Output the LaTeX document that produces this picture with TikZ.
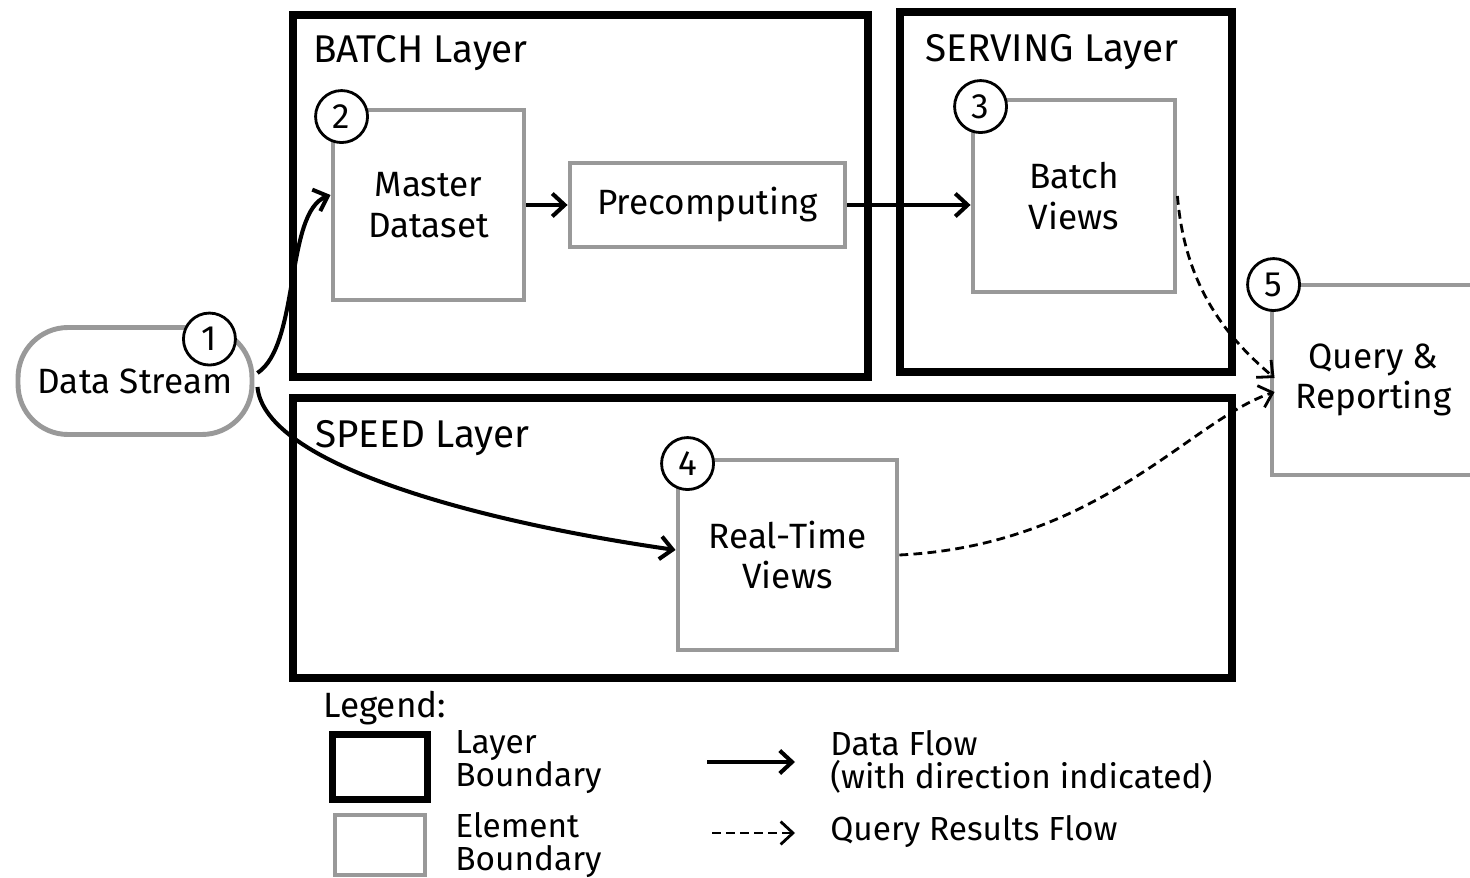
\documentclass[tikz,border=0pt]{standalone}
\usepackage{fontspec}
\setmainfont{Fira Sans}
\usetikzlibrary{arrows.meta,positioning,calc}
\begin{document}
\begin{tikzpicture}[
    x=0.02cm, y=-0.02cm,
    >={Straight Barb[length=7pt,width=13pt]},
    every node/.style={font=\fontsize{20}{23}\selectfont},
    layer/.style={draw=black, line width=4.2pt, inner sep=0pt},
    elem/.style={draw=black!40, line width=2.8pt, fill=white, align=center, inner sep=0pt},
    stream/.style={elem, rounded corners=1cm},
    num/.style={circle, draw=black, line width=1.6pt, fill=white, minimum size=1.04cm, inner sep=0pt},
    title/.style={anchor=base west, inner sep=0pt, font=\fontsize{22}{24}\selectfont},
    flow/.style={->, line width=2.3pt},
    query/.style={->, line width=1.6pt, dash pattern=on 5pt off 3pt},
    legtext/.style={anchor=west, align=left, inner sep=0pt, font=\fontsize{19}{19}\selectfont}
]
\useasboundingbox (0,0) rectangle (1470,878);
\node[layer, minimum width=11.5cm, minimum height=7.24cm] (batch) at (580.5,196) {};
\node[layer, minimum width=6.64cm, minimum height=7.2cm] (serving) at (1066,192) {};
\node[layer, minimum width=18.78cm, minimum height=5.6cm] (speed) at (762.5,538) {};
\node[title] (batchlbl) at (313,63) {BATCH Layer};
\node[title] (servinglbl) at (925,62) {SERVING Layer};
\node[title] (speedlbl) at (315,447) {SPEED Layer};
\node[elem, minimum width=3.82cm, minimum height=3.8cm] (master) at (428.5,205) {Master\\Dataset};
\node[elem, minimum width=5.5cm, minimum height=1.68cm] (precomp) at (707.5,205) {Precomputing};
\node[elem, minimum width=4.04cm, minimum height=3.84cm] (bviews) at (1074,196) {Batch\\Views};
\node[elem, minimum width=4.38cm, minimum height=3.8cm] (rtviews) at (787.5,555) {Real-Time\\Views};
\node[elem, minimum width=4.06cm, minimum height=3.8cm] (query) at (1373.5,380) {Query \&\\Reporting};
\node[stream, minimum width=4.68cm, minimum height=2.14cm] (stream) at (135,381) {Data Stream};
\node[num] (n1) at ($(stream.north east)+(-45,14)$) {1};
\node[num] (n2) at ($(master.north west)+(11,9)$) {2};
\node[num] (n3) at ($(bviews.north west)+(10,9)$) {3};
\node[num] (n4) at ($(rtviews.north west)+(12,6)$) {4};
\node[num] (n5) at ($(query.north west)+(4,2)$) {5};
\draw[flow] ($(stream.east)+(3,-8)$) .. controls (300,345) and (285,212) .. ($(master.west)+(0,-10)$);
\draw[flow] ($(stream.east)+(3,6)$) .. controls (265,465) and (480,522) .. ($(rtviews.west)+(0,-5)$);
\draw[flow] (master) -- (precomp);
\draw[flow] (precomp.east) -- (precomp.east -| bviews.west);
\draw[query] (bviews.east) .. controls (1185,290) and (1230,340) .. ($(query.west)+(5,-2)$);
\draw[query] (rtviews.east) .. controls (1100,545) and (1190,420) .. ($(query.west)+(5,12)$);
\node[anchor=base west, inner sep=0pt] (legend) at (323,717) {Legend:};
\node[layer, minimum width=1.9cm, minimum height=1.3cm] (leglayer) at (380,767) {};
\node[elem, minimum width=1.8cm, minimum height=1.2cm] (legelem) at (380,845) {};
\node[legtext] (leglayertxt) at (455,762) {Layer\\Boundary};
\node[legtext] (legelemtxt) at (455,845) {Element\\Boundary};
\coordinate (dfa) at (707,762);
\coordinate (dfb) at (795,762);
\draw[flow] (dfa) -- (dfb);
\node[legtext] (dftxt) at (830,762) {Data Flow\\(with direction indicated)};
\coordinate (qfa) at (712,833);
\coordinate (qfb) at (795,833);
\draw[query] (qfa) -- (qfb);
\node[legtext] (qftxt) at (830,832) {Query Results Flow};
\end{tikzpicture}
\end{document}
